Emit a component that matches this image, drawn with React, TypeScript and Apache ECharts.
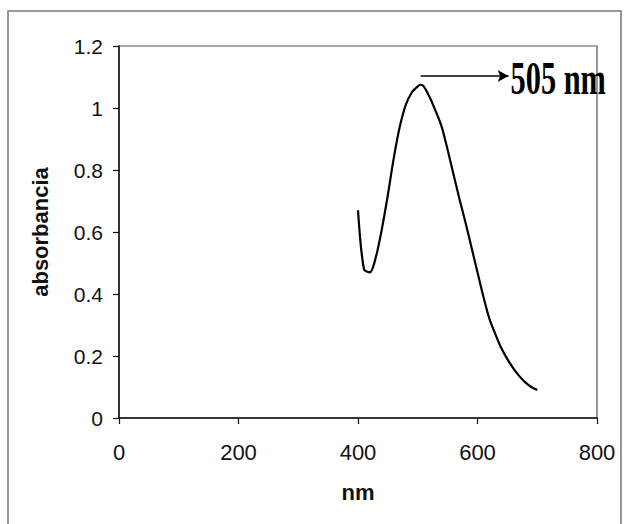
import React, { useEffect, useRef } from "react";
import * as echarts from "echarts";

const wavelengths = [400, 410, 420, 430, 440, 450, 460, 470, 480, 490, 500, 505, 510, 520, 530, 540, 550, 560, 570, 580, 590, 600, 610, 620, 630, 640, 650, 660, 670, 680, 690, 700];
const absorbance = [0.67, 0.48, 0.47, 0.52, 0.61, 0.72, 0.84, 0.94, 1.01, 1.05, 1.07, 1.075, 1.07, 1.035, 0.99, 0.94, 0.865, 0.785, 0.705, 0.63, 0.55, 0.47, 0.39, 0.32, 0.27, 0.225, 0.19, 0.16, 0.135, 0.115, 0.1, 0.09];
const xTicks = [0, 200, 400, 600, 800];
const yTicks = [0, 0.2, 0.4, 0.6, 0.8, 1, 1.2];
const peakLabel = "505 nm";
const arrowStart = [505, 1.103];
const arrowEnd = [652, 1.103];

export default function App() {
  const ref = useRef<HTMLDivElement>(null);
  useEffect(() => {
    if (!ref.current) return;
    const chart = echarts.init(ref.current, null, { renderer: "svg" });
    const axisLine = { show: true, lineStyle: { color: "#111", width: 1.5 } };
    chart.setOption({
      animation: false,
      backgroundColor: "#fff",
      grid: {
        left: 119,
        right: 27,
        top: 46,
        bottom: 106,
        show: true,
        borderColor: "#555",
        borderWidth: 1.2,
      },
      xAxis: {
        type: "value",
        min: xTicks[0],
        max: xTicks[xTicks.length - 1],
        interval: 200,
        name: "nm",
        nameLocation: "middle",
        nameGap: 63,
        nameTextStyle: { fontFamily: "Liberation Sans", fontWeight: "bold", fontSize: 22, color: "#111" },
        axisLine,
        axisTick: { show: true, length: 6, lineStyle: { color: "#111", width: 1.2 } },
        axisLabel: { fontFamily: "Liberation Sans", fontSize: 22, color: "#111", margin: 23 },
        splitLine: { show: false },
      },
      yAxis: {
        type: "value",
        min: yTicks[0],
        max: yTicks[yTicks.length - 1],
        interval: 0.2,
        name: "absorbancia",
        nameLocation: "middle",
        nameGap: 68,
        nameTextStyle: { fontFamily: "Liberation Sans", fontWeight: "bold", fontSize: 22, color: "#111" },
        axisLine,
        axisTick: { show: true, length: 6, lineStyle: { color: "#111", width: 1.2 } },
        axisLabel: { fontFamily: "Liberation Sans", fontSize: 21, color: "#111", margin: 16 },
        splitLine: { show: false },
      },
      series: [
        {
          type: "line",
          data: wavelengths.map((w, i) => [w, absorbance[i]]),
          symbol: "none",
          smooth: 0.3,
          lineStyle: { color: "#000", width: 2.2 },
          markLine: {
            silent: true,
            symbol: ["none", "arrow"],
            symbolSize: [9, 11],
            label: { show: false },
            lineStyle: { color: "#000", width: 1.5, type: "solid" },
            data: [[{ coord: arrowStart }, { coord: arrowEnd }]],
          },
        },
      ],
    });
    const end = chart.convertToPixel({ gridIndex: 0 }, arrowEnd) as number[];
    chart.setOption({
      graphic: [
        {
          type: "rect",
          shape: { x: 8, y: 11, width: 613, height: 520 },
          style: { fill: "none", stroke: "#777", lineWidth: 1.5 },
          silent: true,
        },
        {
          type: "text",
          x: end[0] + 2,
          y: end[1] + 2,
          scaleX: 0.66,
          style: {
            text: peakLabel,
            x: 0,
            y: 0,
            fill: "#000",
            font: 'bold 46px "Liberation Serif"',
            textAlign: "left",
            textVerticalAlign: "middle",
          },
        },
      ],
    });
    return () => chart.dispose();
  }, []);
  return <div ref={ref} style={{ position: "absolute", left: 0, top: 0, width: 624, height: 524 }} />;
}
